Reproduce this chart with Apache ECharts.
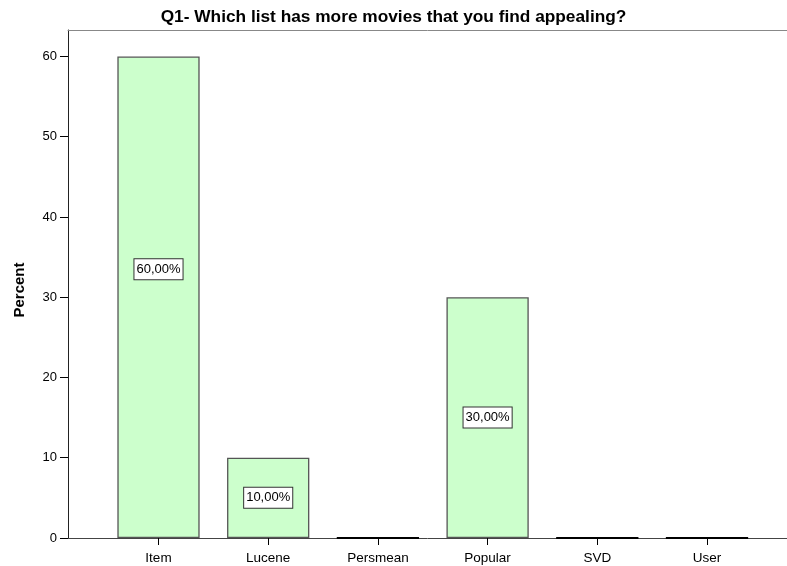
<!DOCTYPE html>
<html>
<head>
<meta charset="utf-8">
<style>html,body{margin:0;padding:0;background:#fff;}#chart{width:787px;height:566px;}</style>
<script src="https://cdn.jsdelivr.net/npm/echarts@6/dist/echarts.min.js"></script>
</head>
<body>
<div id="chart"></div>
<script>
const titleText = 'Q1- Which list has more movies that you find appealing?';
const yAxisName = 'Percent';
const categories = ['Item', 'Lucene', 'Persmean', 'Popular', 'SVD', 'User'];
const percents = [60, 10, 0, 30, 0, 0];
const yTickMax = 60, yStep = 10;
const yMin = 0, yMax = 63.3;

const FONT = 'Liberation Sans, Arial, sans-serif';
const chart = echarts.init(document.getElementById('chart'));

// geometry of the plot frame
const gTop = 30, gBottom = 28, H = 566;
const plotH = H - gTop - gBottom;
// tick axis grid: same scale, extended one step above so no tick lands at the frame top
const tickAxisMax = yTickMax + yStep;
const tickTop = (H - gBottom) - plotH * (tickAxisMax / yMax);

const barData = percents.map(v => ({
  value: v,
  label: { show: v > 0, offset: v >= 50 ? [0, -28] : [0, 0] },
  itemStyle: v === 0 ? { borderColor: '#000', borderWidth: 2.2 } : {}
}));

chart.setOption({
  animation: false,
  title: {
    text: titleText, left: 'center', top: 4,
    textStyle: { fontFamily: FONT, fontSize: 17.3, fontWeight: 'bold', color: '#000' }
  },
  graphic: [{
    type: 'text', x: 20, y: 290, rotation: Math.PI / 2,
    style: { text: yAxisName, fontFamily: FONT, fontSize: 15, fontWeight: 'bold', fill: '#000',
      align: 'center', verticalAlign: 'middle' }
  }],
  grid: [
    { left: 68, right: 0, top: gTop, bottom: gBottom, outerBoundsMode: 'none', containLabel: false },
    { left: 103.65, right: 25.15, top: gTop, bottom: gBottom, outerBoundsMode: 'none', containLabel: false },
    { left: 68, right: 0, top: tickTop, bottom: gBottom, outerBoundsMode: 'none', containLabel: false }
  ],
  xAxis: [
    { type: 'value', gridIndex: 0, min: 0, max: 1, position: 'bottom',
      axisLine: { show: true, lineStyle: { color: '#444', width: 1 } },
      axisTick: { show: false }, axisLabel: { show: false }, splitLine: { show: false } },
    { type: 'value', gridIndex: 0, min: 0, max: 1, position: 'top',
      axisLine: { show: true, lineStyle: { color: '#888', width: 1 } },
      axisTick: { show: false }, axisLabel: { show: false }, splitLine: { show: false } },
    { type: 'category', gridIndex: 1, data: categories, position: 'bottom',
      axisLine: { show: false },
      axisTick: { show: true, alignWithLabel: true, length: 7, lineStyle: { color: '#000' } },
      axisLabel: { fontFamily: FONT, fontSize: 13.5, color: '#000', margin: 13 } },
    { type: 'value', gridIndex: 2, min: 0, max: 1, show: false }
  ],
  yAxis: [
    { type: 'value', gridIndex: 0, min: yMin, max: yMax,
      axisLine: { show: true, lineStyle: { color: '#222' } },
      axisTick: { show: false }, axisLabel: { show: false }, splitLine: { show: false } },
    { type: 'value', gridIndex: 1, min: yMin, max: yMax, show: false },
    { type: 'value', gridIndex: 2, min: 0, max: tickAxisMax, interval: yStep,
      axisLine: { show: false },
      axisTick: { show: true, length: 8, lineStyle: { color: '#000' } },
      axisLabel: { fontFamily: FONT, fontSize: 13, color: '#000', margin: 11,
        formatter: v => (v <= yTickMax ? String(v) : '') },
      splitLine: { show: false } }
  ],
  series: [{
    type: 'bar', xAxisIndex: 2, yAxisIndex: 1,
    data: barData,
    barWidth: '75%',
    itemStyle: { color: '#ccffcc', borderColor: '#555', borderWidth: 1.3 },
    label: {
      position: 'inside', fontFamily: FONT, fontSize: 13, color: '#000',
      backgroundColor: '#fff', borderColor: '#333', borderWidth: 1, padding: [4, 2, 3, 2],
      formatter: p => p.value.toFixed(2).replace('.', ',') + '%'
    }
  }]
});
</script>
</body>
</html>
